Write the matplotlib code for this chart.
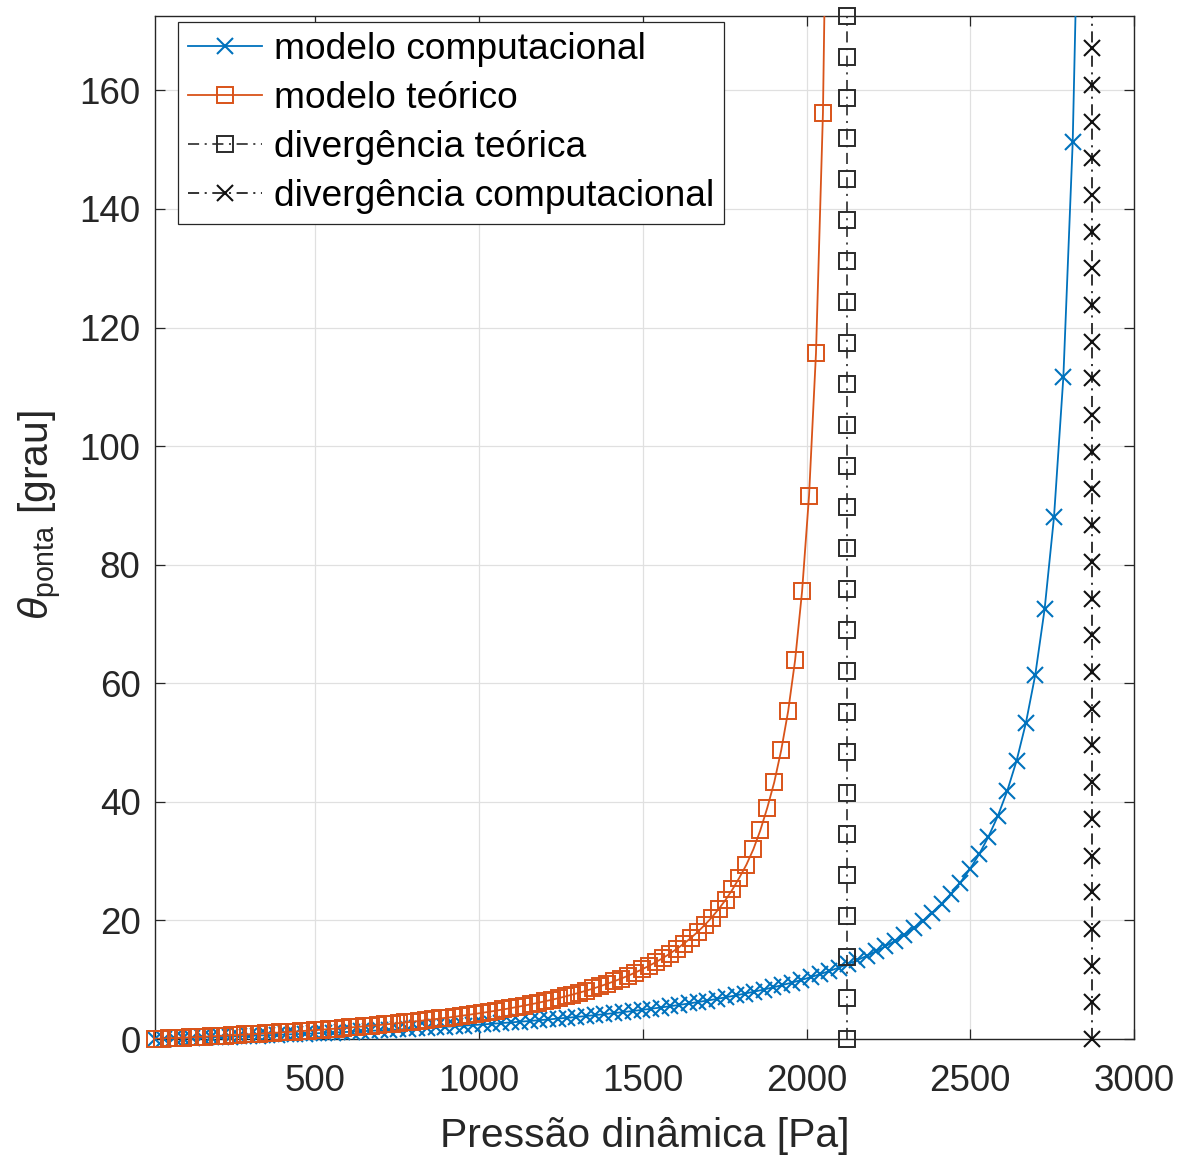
import matplotlib
matplotlib.use("Agg")
import matplotlib.pyplot as plt
from matplotlib.legend_handler import HandlerTuple

plt.rcParams["font.family"] = ["Liberation Sans", "DejaVu Sans"]
plt.rcParams["mathtext.fontset"] = "custom"
plt.rcParams["mathtext.rm"] = "Liberation Sans"
plt.rcParams["mathtext.it"] = "Liberation Sans:italic"
plt.rcParams["lines.scale_dashes"] = False

# ---- data -------------------------------------------------------------
# theoretical model: tip twist vs dynamic pressure
q_teo = [
    10, 31.25, 52.5, 73.75, 95, 116.25, 137.5, 158.75, 180, 201.25,
    222.5, 243.75, 265, 286.25, 307.5, 328.75, 350, 371.25, 392.5, 413.75,
    435, 456.25, 477.5, 498.75, 520, 541.25, 562.5, 583.75, 605, 626.25,
    647.5, 668.75, 690, 711.25, 732.5, 753.75, 775, 796.25, 817.5, 838.75,
    860, 881.25, 902.5, 923.75, 945, 966.25, 987.5, 1008.75, 1030, 1051.25,
    1072.5, 1093.75, 1115, 1136.25, 1157.5, 1178.75, 1200, 1221.25, 1242.5, 1263.75,
    1285, 1306.25, 1327.5, 1348.75, 1370, 1391.25, 1412.5, 1433.75, 1455, 1476.25,
    1497.5, 1518.75, 1540, 1561.25, 1582.5, 1603.75, 1625, 1646.25, 1667.5, 1688.75,
    1710, 1731.25, 1752.5, 1773.75, 1795, 1816.25, 1837.5, 1858.75, 1880, 1901.25,
    1922.5, 1943.75, 1965, 1986.25, 2007.5, 2028.75, 2050, 2071.25,
]
theta_teo = [
    0.02, 0.07, 0.12, 0.18, 0.23, 0.28, 0.34, 0.39, 0.45, 0.51,
    0.57, 0.63, 0.69, 0.76, 0.82, 0.89, 0.96, 1.03, 1.10, 1.18,
    1.25, 1.33, 1.41, 1.49, 1.58, 1.66, 1.75, 1.84, 1.94, 2.03,
    2.13, 2.24, 2.34, 2.45, 2.56, 2.68, 2.80, 2.92, 3.05, 3.18,
    3.32, 3.46, 3.60, 3.75, 3.91, 4.07, 4.24, 4.41, 4.59, 4.78,
    4.98, 5.18, 5.40, 5.62, 5.85, 6.09, 6.35, 6.61, 6.89, 7.19,
    7.50, 7.82, 8.16, 8.52, 8.91, 9.31, 9.74, 10.19, 10.68, 11.20,
    11.75, 12.34, 12.98, 13.66, 14.40, 15.21, 16.08, 17.03, 18.07, 19.22,
    20.48, 21.89, 23.46, 25.23, 27.24, 29.4, 32.0, 35.2, 39.0, 43.3,
    48.7, 55.3, 63.9, 75.5, 91.6, 115.7, 156.2, 237.4,
]

# computational model
q_comp = [
    10, 38.6, 67.2, 95.8, 124.4, 153, 181.6, 210.2, 238.8, 267.4,
    296, 324.6, 353.2, 381.8, 410.4, 439, 467.6, 496.2, 524.8, 553.4,
    582, 610.6, 639.2, 667.8, 696.4, 725, 753.6, 782.2, 810.8, 839.4,
    868, 896.6, 925.2, 953.8, 982.4, 1011, 1039.6, 1068.2, 1096.8, 1125.4,
    1154, 1182.6, 1211.2, 1239.8, 1268.4, 1297, 1325.6, 1354.2, 1382.8, 1411.4,
    1440, 1468.6, 1497.2, 1525.8, 1554.4, 1583, 1611.6, 1640.2, 1668.8, 1697.4,
    1726, 1754.6, 1783.2, 1811.8, 1840.4, 1869, 1897.6, 1926.2, 1954.8, 1983.4,
    2012, 2040.6, 2069.2, 2097.8, 2126.4, 2155, 2183.6, 2212.2, 2240.8, 2269.4,
    2298, 2326.6, 2355.2, 2383.8, 2412.4, 2441, 2469.6, 2498.2, 2526.8, 2555.4,
    2584, 2612.6, 2641.2, 2669.8, 2698.4, 2727, 2755.6, 2784.2, 2812.8, 2841.4,
]
theta_comp = [
    0.02, 0.06, 0.11, 0.16, 0.21, 0.26, 0.31, 0.36, 0.41, 0.47,
    0.52, 0.58, 0.64, 0.70, 0.76, 0.82, 0.88, 0.95, 1.02, 1.09,
    1.16, 1.23, 1.30, 1.38, 1.45, 1.53, 1.62, 1.70, 1.79, 1.87,
    1.97, 2.06, 2.16, 2.25, 2.36, 2.46, 2.57, 2.68, 2.80, 2.92,
    3.04, 3.17, 3.30, 3.44, 3.58, 3.72, 3.87, 4.03, 4.19, 4.36,
    4.54, 4.72, 4.91, 5.11, 5.31, 5.53, 5.75, 5.99, 6.24, 6.49,
    6.76, 7.05, 7.35, 7.66, 7.99, 8.34, 8.71, 9.10, 9.51, 9.95,
    10.42, 10.92, 11.46, 12.03, 12.64, 13.31, 14.02, 14.80, 15.64, 16.55,
    17.56, 18.67, 19.89, 21.24, 22.76, 24.46, 26.39, 28.60, 31.15, 34.11,
    37.6, 41.8, 46.9, 53.3, 61.4, 72.5, 88.0, 111.6, 151.3, 223.0,
]

# divergence pressures and the vertical marker lines drawn at them
q_div_teo = 2124
theta_div_teo = [
    0.00, 6.90, 13.81, 20.71, 27.62, 34.52, 41.42, 48.33, 55.23, 62.14,
    69.04, 75.94, 82.85, 89.75, 96.66, 103.56, 110.46, 117.37, 124.27, 131.18,
    138.08, 144.98, 151.89, 158.79, 165.70, 172.60,
]
q_div_comp = 2871
theta_div_comp = [
    0.00, 6.19, 12.38, 18.57, 24.76, 30.95, 37.14, 43.33, 49.52, 55.71,
    61.90, 68.09, 74.28, 80.47, 86.66, 92.85, 99.04, 105.23, 111.42, 117.61,
    123.80, 129.99, 136.18, 142.37, 148.56, 154.75, 160.94, 167.13, 173.32,
]

labels = ["modelo computacional", "modelo teórico",
          "divergência teórica", "divergência computacional"]
x_ticks = [500, 1000, 1500, 2000, 2500, 3000]
y_ticks = [0, 20, 40, 60, 80, 100, 120, 140, 160]

XMIN, XMAX = 10, 3000
YMIN, YMAX = 0, 172.6

BLUE = "#0072BD"
ORANGE = "#D95319"
INK = "#262626"
DASHDOT = [8, 4, 1.5, 4]

# ---- figure -----------------------------------------------------------
fig = plt.figure(figsize=(11.87, 11.56), dpi=100)
ax = fig.add_axes([0.13058, 0.10121, 0.82477, 0.88521])
ax.set_xlim(XMIN, XMAX)
ax.set_ylim(YMIN, YMAX)


def series(x, y, color, marker, ms, mew, lw, dashes=None, z=2):
    """Line clipped to the axes, markers drawn whole for in-range points."""
    line, = ax.plot(x, y, color=color, lw=lw, zorder=z)
    if dashes is not None:
        line.set_dashes(dashes)
    inside = [(a, b) for a, b in zip(x, y)
              if XMIN - 1e-9 <= a <= XMAX and YMIN <= b <= YMAX + 1e-9]
    mx = [p[0] for p in inside]
    my = [p[1] for p in inside]
    marks, = ax.plot(mx, my, ls="none", marker=marker, ms=ms, mew=mew,
                     mfc="none", mec=color, clip_on=False, zorder=z)
    return (line, marks)


h_comp = series(q_comp, theta_comp, BLUE, "x", 11, 1.5, 1.3, z=3)
h_teo = series(q_teo, theta_teo, ORANGE, "s", 12, 1.4, 1.3, z=4)
h_dteo = series([q_div_teo] * len(theta_div_teo), theta_div_teo, "#2b2b2b",
                "s", 11, 1.4, 1.2, dashes=DASHDOT, z=5)
h_dcomp = series([q_div_comp] * len(theta_div_comp), theta_div_comp, "#111111",
                 "x", 12, 1.5, 1.2, dashes=DASHDOT, z=5)

# axes styling
ax.set_xticks(x_ticks)
ax.set_yticks(y_ticks)
ax.grid(True, color="#e0e0e0", lw=0.9)
ax.set_axisbelow(True)
for s in ax.spines.values():
    s.set_color(INK)
    s.set_linewidth(1.0)
ax.tick_params(axis="both", direction="in", length=7, width=0.9,
               top=True, right=True, colors=INK, labelsize=26.5)
ax.tick_params(axis="x", pad=18)
ax.tick_params(axis="y", pad=10.5)

ax.set_xlabel("Pressão dinâmica [Pa]", fontsize=29.4, color=INK)
ax.xaxis.set_label_coords(0.5, -0.0765)
ax.set_ylabel(r"$\theta_{\mathrm{ponta}}$ [grau]", fontsize=29.4, color=INK)
ax.yaxis.set_label_coords(-0.093, 0.512)

leg = ax.legend([h_comp, h_teo, h_dteo, h_dcomp], labels,
                handler_map={tuple: HandlerTuple(ndivide=1, pad=0)},
                loc="upper left", bbox_to_anchor=(0.0235, 0.9938),
                borderaxespad=0, fontsize=26.7, handlelength=2.0,
                handletextpad=0.33, labelspacing=0.38, borderpad=0.26,
                fancybox=False, edgecolor=INK, framealpha=1, numpoints=1)
leg.get_frame().set_linewidth(0.9)
leg.set_zorder(10)

fig.savefig("out.png", dpi=100)
